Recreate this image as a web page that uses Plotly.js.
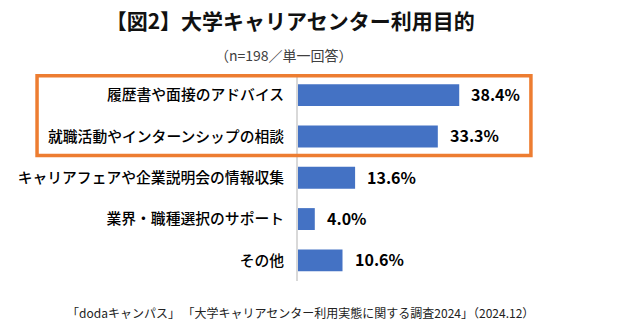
<!DOCTYPE html>
<html>
<head>
<meta charset="utf-8">
<script src="https://cdn.plot.ly/plotly-3.0.1.min.js"></script>
<style>html,body{margin:0;padding:0;background:#fff;}</style>
</head>
<body>
<div id="chart" style="width:620px;height:330px;"></div>
<script>
const categories = [
  "履歴書や面接のアドバイス",
  "就職活動やインターンシップの相談",
  "キャリアフェアや企業説明会の情報収集",
  "業界・職種選択のサポート",
  "その他"
];
const values = [38.4, 33.3, 13.6, 4.0, 10.6];
const titleText = "【図2】大学キャリアセンター利用目的";
const subtitleText = "（n=198／単一回答）";
const sourceText = "「dodaキャンパス」 「大学キャリアセンター利用実態に関する調査2024」（2024.12）";

const FONT = "'Noto Sans CJK JP', 'Noto Sans', sans-serif";

const trace = {
  type: "bar",
  orientation: "h",
  x: values,
  y: categories,
  marker: {color: "#4472C4"},
  hoverinfo: "none"
};

const valueAnnotations = values.map((v, i) => ({
  x: v, y: categories[i], xref: "x", yref: "y",
  text: v.toFixed(1) + "%",
  showarrow: false, xanchor: "left", yanchor: "middle",
  xshift: 10, yshift: 1,
  font: {family: FONT, size: 16, color: "#000", weight: "bold"}
}));

const layout = {
  width: 620, height: 330,
  margin: {l: 298, r: 60, t: 74, b: 49},
  paper_bgcolor: "#fff", plot_bgcolor: "#fff",
  showlegend: false,
  bargap: 0.47,
  title: {
    text: "<b>" + titleText + "</b>",
    x: 0.468, xref: "container", xanchor: "center",
    y: 0.933, yref: "container", yanchor: "middle",
    font: {family: FONT, size: 21, color: "#111"}
  },
  xaxis: {
    range: [0, 62.4], showgrid: false, zeroline: false,
    showticklabels: false, showline: false, fixedrange: true
  },
  yaxis: {
    type: "category", categoryorder: "array", categoryarray: categories,
    autorange: "reversed",
    showgrid: false, zeroline: false,
    showline: true, linecolor: "#D9D9D9", linewidth: 2,
    ticks: "", ticklabelstandoff: 9,
    tickfont: {family: FONT, size: 14.8, color: "#000", weight: 500}
  },
  annotations: valueAnnotations.concat([
    {
      text: subtitleText, xref: "paper", yref: "paper",
      x: -0.053, y: 1.092, xanchor: "center", yanchor: "middle",
      showarrow: false, font: {family: FONT, size: 14, color: "#404040"}
    },
    {
      text: sourceText, xref: "paper", yref: "paper",
      x: 0.008, y: -0.15, xanchor: "center", yanchor: "middle",
      showarrow: false, font: {family: FONT, size: 12, color: "#222"}
    }
  ]),
  shapes: [{
    type: "rect", xref: "paper", yref: "y",
    x0: -0.996, x1: 0.889, y0: -0.47, y1: 1.46,
    line: {color: "#ED7D31", width: 3.5}, fillcolor: "rgba(0,0,0,0)"
  }]
};

Plotly.newPlot("chart", [trace], layout, {displayModeBar: false, staticPlot: true});
</script>
</body>
</html>
